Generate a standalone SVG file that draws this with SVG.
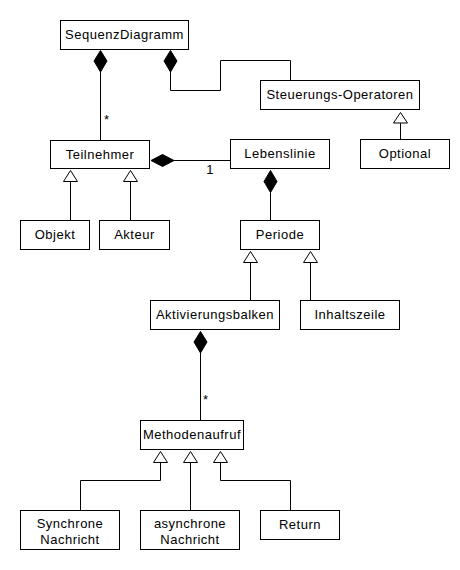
<svg xmlns="http://www.w3.org/2000/svg" width="460" height="570" viewBox="0 0 460 570">
<style>
rect{fill:#fff;stroke:#000;stroke-width:1}
text{font-family:"Liberation Sans",Arial,sans-serif;font-size:13px;letter-spacing:0.5px;text-anchor:middle;fill:#000}
.ln{fill:none;stroke:#000;stroke-width:1}
.dia{fill:#000;stroke:#000;stroke-width:1}
.tri{fill:#fff;stroke:#000;stroke-width:1}
.lbl{text-anchor:start}
</style>
<rect width="460" height="570" style="fill:#fff;stroke:none"/>
<g id="connectors">
  <path class="ln" d="M100.5,72 V140.5"/>
  <polygon class="dia" points="100.5,50.5 107,61 100.5,72 94,61"/>
  <text class="lbl" x="104" y="124">*</text>
  <path class="ln" d="M170.5,72 V90.5 H220.5 V60.5 H290.5 V80.5"/>
  <polygon class="dia" points="170.5,50.5 177,61 170.5,72 164,61"/>
  <path class="ln" d="M400.5,123 V139.5"/>
  <polygon class="tri" points="400.5,112.5 407.5,123 393.5,123"/>
  <path class="ln" d="M174,160.5 H230.5"/>
  <polygon class="dia" points="151,160.5 162.5,154.5 174,160.5 162.5,166.5"/>
  <text x="210" y="174">1</text>
  <path class="ln" d="M70.5,181.5 V220.5"/>
  <polygon class="tri" points="70.5,170.5 77.5,181.5 63.5,181.5"/>
  <path class="ln" d="M130.5,181.5 V220.5"/>
  <polygon class="tri" points="130.5,170.5 137.5,181.5 123.5,181.5"/>
  <path class="ln" d="M270.5,192.5 V220.5"/>
  <polygon class="dia" points="270.5,170.5 277,181.5 270.5,192.5 264,181.5"/>
  <path class="ln" d="M250.5,262.5 V300.5"/>
  <polygon class="tri" points="250.5,251.5 257.5,262.5 243.5,262.5"/>
  <path class="ln" d="M310.5,262.5 V300.5"/>
  <polygon class="tri" points="310.5,251.5 317.5,262.5 303.5,262.5"/>
  <path class="ln" d="M200.5,353 V420.5"/>
  <polygon class="dia" points="200.5,331.5 207,342 200.5,353 194,342"/>
  <text class="lbl" x="203" y="404">*</text>
  <path class="ln" d="M160.5,462.5 V480.5 H80.5 V510.5"/>
  <polygon class="tri" points="160.5,451.5 167.5,462.5 153.5,462.5"/>
  <path class="ln" d="M190.5,462.5 V510.5"/>
  <polygon class="tri" points="190.5,451.5 197.5,462.5 183.5,462.5"/>
  <path class="ln" d="M220.5,462.5 V480.5 H290.5 V510.5"/>
  <polygon class="tri" points="220.5,451.5 227.5,462.5 213.5,462.5"/>
</g>
<g id="sequenzdiagramm"><rect x="60.5" y="20.5" width="128" height="29"/><text x="124.5" y="39">SequenzDiagramm</text></g>
<g id="steuerungs-operatoren"><rect x="260.5" y="80.5" width="159" height="29"/><text x="340" y="99">Steuerungs-Operatoren</text></g>
<g id="optional"><rect x="360.5" y="139.5" width="89" height="29"/><text x="405" y="158">Optional</text></g>
<g id="teilnehmer"><rect x="50.5" y="140.5" width="99" height="28"/><text x="100" y="159">Teilnehmer</text></g>
<g id="lebenslinie"><rect x="230.5" y="139.5" width="99" height="29"/><text x="280" y="158">Lebenslinie</text></g>
<g id="objekt"><rect x="20.5" y="220.5" width="69" height="29"/><text x="55" y="239">Objekt</text></g>
<g id="akteur"><rect x="99.5" y="220.5" width="70" height="29"/><text x="134.5" y="239">Akteur</text></g>
<g id="periode"><rect x="240.5" y="220.5" width="79" height="29"/><text x="280" y="239">Periode</text></g>
<g id="aktivierungsbalken"><rect x="150.5" y="300.5" width="129" height="29"/><text x="215" y="319">Aktivierungsbalken</text></g>
<g id="inhaltszeile"><rect x="300.5" y="300.5" width="99" height="29"/><text x="350" y="319">Inhaltszeile</text></g>
<g id="methodenaufruf"><rect x="140.5" y="420.5" width="103" height="29"/><text x="192" y="439">Methodenaufruf</text></g>
<g id="synchrone-nachricht"><rect x="20.5" y="510.5" width="99" height="39"/><text x="70" y="528">Synchrone</text><text x="70" y="543.5">Nachricht</text></g>
<g id="asynchrone-nachricht"><rect x="140.5" y="510.5" width="99" height="39"/><text x="190" y="528">asynchrone</text><text x="190" y="543.5">Nachricht</text></g>
<g id="return"><rect x="260.5" y="510.5" width="79" height="29"/><text x="300" y="528.5">Return</text></g>
</svg>
